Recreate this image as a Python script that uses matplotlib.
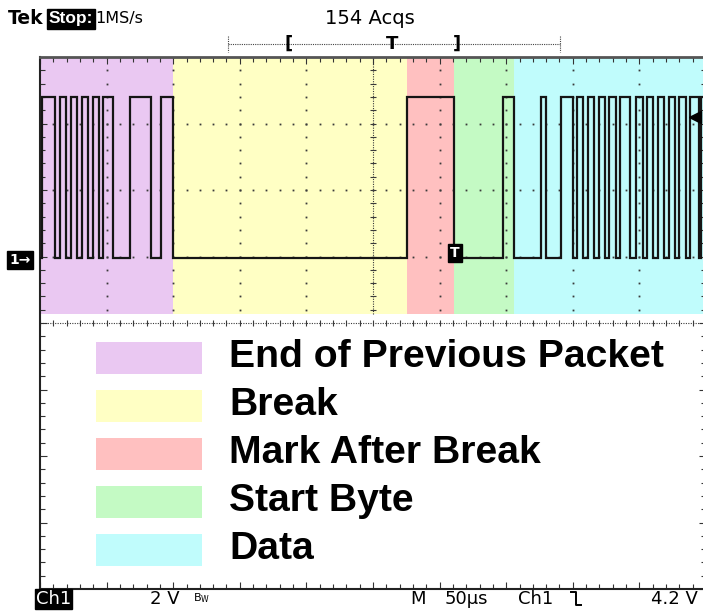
import matplotlib
matplotlib.use('Agg')
import matplotlib.pyplot as plt
from matplotlib.patches import Rectangle
from matplotlib.ticker import MultipleLocator
import numpy as np

# ---------------- data ----------------
region_names = ["End of Previous Packet", "Break", "Mark After Break", "Start Byte", "Data"]
region_edges_us = [0.0, 100.0, 275.2, 310.5, 355.6, 500.0]
region_colors = ['#EAC8F2', '#FFFFC4', '#FFC0C0', '#C4FAC4', '#C0FCFC']

# signal transition times (us from left edge of screen); level starts low, alternates
edge_times_us = [1.5, 11.1, 14.8, 19.8, 23.5, 28.0, 31.6, 36.1, 39.9, 44.4, 47.4, 54.9,
                 67.4, 83.7, 91.2, 100.0,
                 275.2, 310.5,
                 347.6, 355.6,
                 375.9, 379.7, 391.5, 399.8, 403.5, 407.8, 411.5, 416.0, 419.8, 424.1,
                 427.3, 432.3, 435.6, 443.1, 447.4, 452.4, 455.6, 460.2, 463.9, 468.4,
                 472.2, 476.7, 479.7, 485.0, 488.0, 494.7, 496.2]
high_v = 4.8
low_v = -0.05
trigger_level_v = 4.2
trigger_time_us = 310.5

header_left = ["Tek", "Stop:", "1MS/s"]
header_acq = "154 Acqs"
footer = ["Ch1", "2 V", "M", "50\u00b5s", "Ch1", "4.2 V"]

# ---------------- figure ----------------
W, H = 703, 611
fig = plt.figure(figsize=(W / 100, H / 100), dpi=100)
fig.patch.set_facecolor('white')

L, T, R, B = 40, 57, 706, 589
ax = fig.add_axes([L / W, 1 - B / H, (R - L) / W, (B - T) / H])
ax.set_xlim(0, 500)
ax.set_ylim(-10, 6)
ax.set_facecolor('white')

grey = '#3a3a3a'
color_bottom = -1.72  # volts where coloured band ends
ymin_frac = (color_bottom + 10) / 16.0

for i, c in enumerate(region_colors):
    ax.axvspan(region_edges_us[i], region_edges_us[i + 1], ymin=ymin_frac, ymax=1,
               color=c, lw=0, zorder=0)

# graticule dots in coloured area
xs_minor = np.arange(0, 501, 10)
for yv in [4, 2, 0]:
    ax.plot(xs_minor, np.full_like(xs_minor, yv, dtype=float), ls='none', marker='s',
            ms=1.3, color=grey, mew=0, zorder=1)
ys_minor = np.arange(-1.6, 6.01, 0.4)
for xv in [50, 100, 150, 200, 300, 350, 400, 450]:
    ax.plot(np.full_like(ys_minor, xv), ys_minor, ls='none', marker='s', ms=1.3,
            color=grey, mew=0, zorder=1)

# center lines
ax.plot([0, 500], [-2, -2], ls=(0, (1, 1.2)), color=grey, lw=0.8, zorder=1)
ax.plot(xs_minor, np.full_like(xs_minor, -2, dtype=float), ls='none', marker='|', ms=5,
        mew=0.8, color=grey, zorder=1)
yc = np.arange(-1.6, 6.01, 0.4)
ax.plot([250, 250], [color_bottom, 6], ls=(0, (1, 1.2)), color=grey, lw=0.8, zorder=1)
ax.plot(np.full_like(yc, 250), yc, ls='none', marker='_', ms=5, mew=0.8, color=grey, zorder=1)

# waveform
xs = [0.0]
ys = [low_v]
level = low_v
for t in edge_times_us:
    xs.append(t); ys.append(level)
    level = high_v if level == low_v else low_v
    xs.append(t); ys.append(level)
xs.append(500.0); ys.append(level)
ax.plot(xs, ys, color='#151515', lw=1.6, zorder=3, solid_joinstyle='miter')

# trigger markers
ax.plot([492], [trigger_level_v], marker='<', ms=9, color='black', zorder=4)
ax.text(trigger_time_us + 1.0, 0.1, "T", ha='center', va='center', color='white',
        fontsize=10, fontweight='bold', family='DejaVu Sans', zorder=5,
        bbox=dict(boxstyle='square,pad=0.15', fc='black', ec='black'))

# frame
for s in ['top', 'bottom', 'left', 'right']:
    ax.spines[s].set_color('#222222')
    ax.spines[s].set_linewidth(1.5)
ax.spines['top'].set_color('#555555')
ax.spines['top'].set_linewidth(2)
ax.xaxis.set_major_locator(MultipleLocator(50))
ax.xaxis.set_minor_locator(MultipleLocator(10))
ax.yaxis.set_major_locator(MultipleLocator(2))
ax.yaxis.set_minor_locator(MultipleLocator(0.4))
ax.tick_params(which='both', direction='in', top=True, right=True, bottom=True, left=True,
               labelbottom=False, labelleft=False, color='#333333')
ax.tick_params(which='major', length=5, width=0.8)
ax.tick_params(which='minor', length=3.5, width=0.8)

# legend
sw_x0, sw_w, sw_h = 96, 106, 32
row_y0, row_dy = 358, 48
for i, (name, c) in enumerate(zip(region_names, region_colors)):
    yc_px = row_y0 + i * row_dy
    fig.patches.append(Rectangle((sw_x0 / W, 1 - (yc_px + sw_h / 2) / H), sw_w / W, sw_h / H,
                                 transform=fig.transFigure, fc=c, ec='none', zorder=5))
    fig.text(229 / W, 1 - (yc_px - 1) / H, name, ha='left', va='center', fontsize=28.2,
             family=['Liberation Sans', 'DejaVu Sans'], fontweight='bold', color='black')

# header
fig.text(8 / W, 1 - 19 / H, header_left[0], fontsize=13.5, fontweight='bold',
         family='DejaVu Sans', va='center', ha='left')
fig.text(49 / W, 1 - 19 / H, header_left[1], fontsize=12.5, fontweight='bold', color='white',
         family='Liberation Sans', va='center', ha='left',
         bbox=dict(boxstyle='square,pad=0.12', fc='black', ec='black'))
fig.text(95 / W, 1 - 19 / H, header_left[2], fontsize=11.5, family='DejaVu Sans',
         va='center', ha='left')
fig.text(370 / W, 1 - 19 / H, header_acq, fontsize=14, family='DejaVu Sans',
         va='center', ha='center')

# record bar
fig.lines.append(plt.Line2D([228 / W, 560 / W], [1 - 44 / H, 1 - 44 / H], transform=fig.transFigure,
                            color='#444444', lw=0.8, ls=(0, (1, 1))))
for xp in [228, 560]:
    fig.lines.append(plt.Line2D([xp / W, xp / W], [1 - 36 / H, 1 - 52 / H], transform=fig.transFigure,
                                color='#444444', lw=0.8, ls=(0, (1, 1))))
for xp, ch in [(289, '['), (392, 'T'), (457, ']')]:
    fig.text(xp / W, 1 - 44 / H, ch, fontsize=13, fontweight='bold', family='DejaVu Sans',
             ha='center', va='center')

# channel marker
fig.text(20 / W, 1 - 260 / H, "1\u2192", fontsize=10, fontweight='bold', color='white',
         family='DejaVu Sans', ha='center', va='center',
         bbox=dict(boxstyle='square,pad=0.15', fc='black', ec='black'))

# footer
fy = 1 - 599 / H
ffont = 'DejaVu Sans'
fig.text(36 / W, fy, footer[0], fontsize=13, color='white', family=ffont, va='center',
         ha='left', bbox=dict(boxstyle='square,pad=0.05', fc='black', ec='black'))
fig.text(150 / W, fy, footer[1], fontsize=13, family=ffont, va='center', ha='left')
fig.text(193 / W, fy + 0.002, r"B$_\mathregular{W}$", fontsize=8, family=ffont,
         va='center', ha='left')
fig.text(410 / W, fy, footer[2], fontsize=13, family=ffont, va='center', ha='left')
fig.text(445 / W, fy, footer[3], fontsize=13, family=ffont, va='center', ha='left')
fig.text(518 / W, fy, footer[4], fontsize=13, family=ffont, va='center', ha='left')
fig.lines.append(plt.Line2D([571 / W, 576 / W, 576 / W, 581 / W],
                            [1 - 592 / H, 1 - 592 / H, 1 - 605 / H, 1 - 605 / H],
                            transform=fig.transFigure, color='black', lw=1.4))
fig.text(698 / W, fy, footer[5], fontsize=13, family=ffont, va='center', ha='right')

fig.savefig('out.png', dpi=100, facecolor='white')
